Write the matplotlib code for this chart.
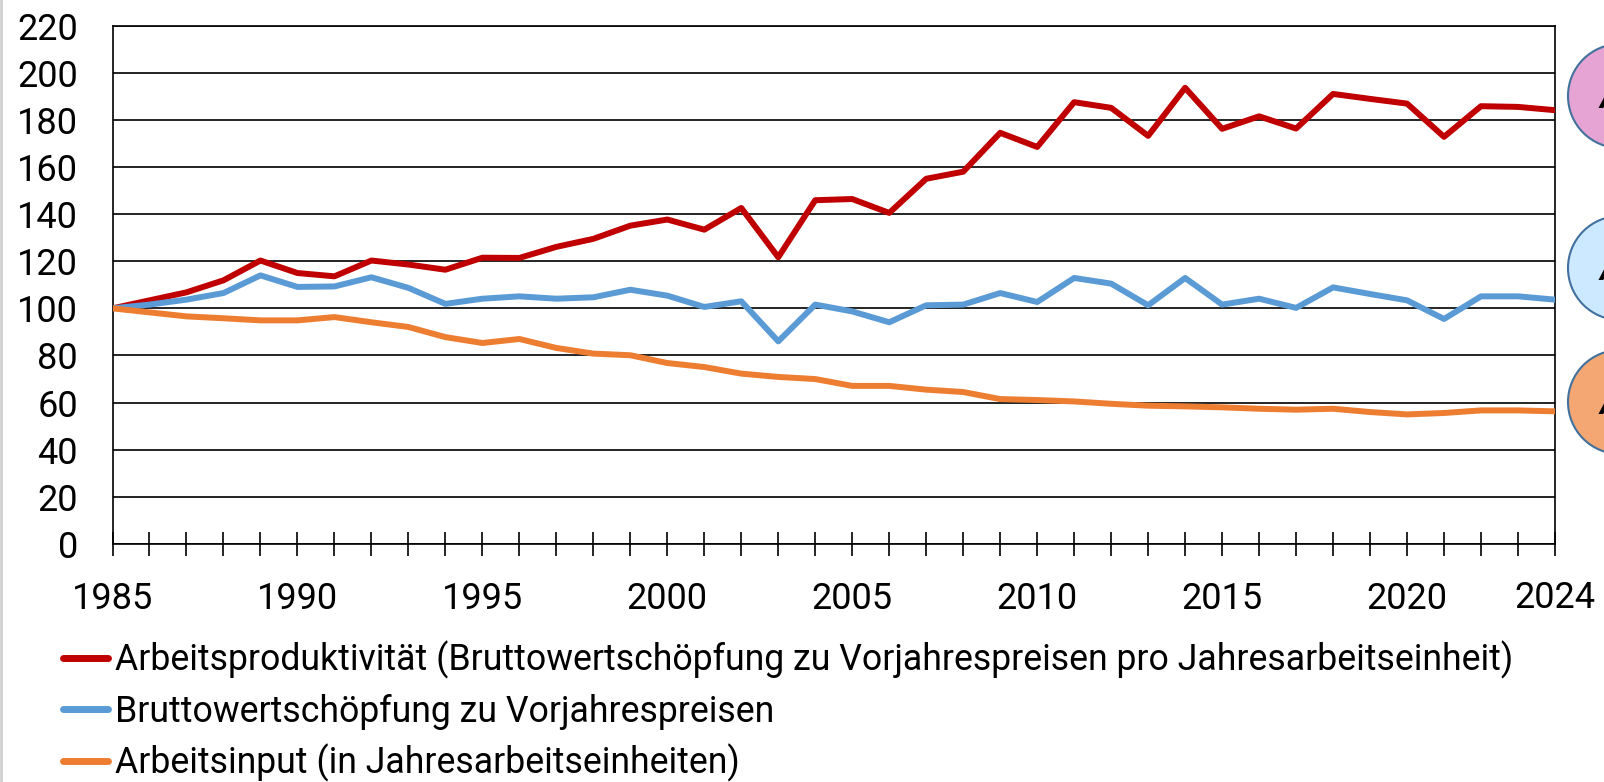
import matplotlib
matplotlib.use("Agg")
import matplotlib.pyplot as plt
from matplotlib.patches import Ellipse

plt.rcParams['font.family'] = ['Roboto', 'DejaVu Sans']

# Jahre und Indexwerte (1985 = 100)
jahre = list(range(1985, 2025))

arbeitsproduktivitaet = [100, 103.4, 106.8, 111.9, 120.3, 115.0, 113.6, 120.3, 118.6, 116.4,
                         121.5, 121.4, 126.1, 129.5, 135.1, 137.7, 133.4, 142.6, 121.7, 145.9,
                         146.4, 140.5, 155.0, 158.0, 174.5, 168.5, 187.5, 185.1, 173.2, 193.6,
                         176.2, 181.5, 176.3, 191.0, 188.9, 186.9, 172.8, 185.8, 185.5, 184.1]

bruttowertschoepfung = [100, 101.6, 103.7, 106.5, 114.0, 109.1, 109.3, 113.2, 108.7, 101.9,
                        104.1, 105.1, 104.1, 104.7, 107.9, 105.4, 100.6, 103.0, 86.0, 101.6,
                        98.7, 94.1, 101.3, 101.6, 106.5, 102.7, 112.9, 110.5, 101.3, 112.9,
                        101.6, 104.1, 100.2, 108.9, 106.1, 103.4, 95.5, 105.1, 105.1, 103.7]

arbeitsinput = [100, 98.3, 96.6, 95.8, 94.9, 94.9, 96.3, 94.1, 92.1, 87.8,
                85.3, 87.0, 83.2, 80.8, 80.1, 76.8, 75.1, 72.3, 70.9, 70.0,
                67.1, 67.1, 65.5, 64.5, 61.5, 61.1, 60.5, 59.5, 58.7, 58.4,
                58.0, 57.4, 57.0, 57.4, 56.0, 55.0, 55.6, 56.7, 56.7, 56.3]

labels = ['Arbeitsproduktivität (Bruttowertschöpfung zu Vorjahrespreisen pro Jahresarbeitseinheit)',
          'Bruttowertschöpfung zu Vorjahrespreisen',
          'Arbeitsinput (in Jahresarbeitseinheiten)']
farben = ['#C00000', '#5B9BD5', '#ED7D31']

beschriftete_jahre = [1985, 1990, 1995, 2000, 2005, 2010, 2015, 2020]
y_ticks = list(range(0, 221, 20))

fs = 26

fig = plt.figure(figsize=(16.04, 7.82), dpi=100)
ax = fig.add_axes([112.5 / 1604, 1 - 544 / 782, (1555 - 112.5) / 1604, (544 - 25.6) / 782])

for werte, farbe, lab in zip([arbeitsproduktivitaet, bruttowertschoepfung, arbeitsinput], farben, labels):
    ax.plot(jahre, werte, color=farbe, lw=4.3, label=lab, solid_capstyle='round', zorder=3)

ax.set_xlim(1985, 2024)
ax.set_ylim(0, 220)
ax.set_yticks(y_ticks)
ax.yaxis.grid(True, color='black', lw=1.2)
ax.set_axisbelow(True)

ax.set_xticks(jahre)
ax.set_xticklabels([str(j) if j in beschriftete_jahre else '' for j in jahre])
ax.tick_params(axis='x', direction='inout', length=17, width=1.2, pad=18, labelsize=fs)
ax.tick_params(axis='y', length=0, pad=25, labelsize=fs)
ax.annotate('2024', xy=(2024, 0), xycoords=('data', 'axes fraction'), xytext=(0, -26),
            textcoords='offset points', ha='center', va='top', fontsize=fs)

for s in ['left', 'right', 'bottom', 'top']:
    ax.spines[s].set_linewidth(1.2)
    ax.spines[s].set_color('black')

leg = fig.legend(loc='upper left', bbox_to_anchor=(63 / 1604, 1 - 641 / 782), frameon=False,
                 fontsize=25.7, handlelength=1.25, handletextpad=0.2, borderpad=0,
                 borderaxespad=0, labelspacing=0.4)
for h in leg.get_lines():
    h.set_linewidth(5)

# Ellipsen am rechten Rand (angeschnitten)
overlay = fig.add_axes([0, 0, 1, 1], zorder=5)
overlay.set_xlim(0, 1604)
overlay.set_ylim(782, 0)
overlay.axis('off')
for yc, fc in [(96, '#E6A4D4'), (268, '#CCE9FF'), (402, '#F4A673')]:
    overlay.add_patch(Ellipse((1620, yc), 104, 104, facecolor=fc, edgecolor='#41719C', lw=1.5))
    overlay.text(1600, yc + 3, 'A', fontsize=22, fontweight='bold', fontstyle='italic',
                 ha='left', va='center', color='black')
overlay.plot([1, 1], [0, 782], color='#D0D0D0', lw=2)

fig.savefig('out.png', dpi=100)
